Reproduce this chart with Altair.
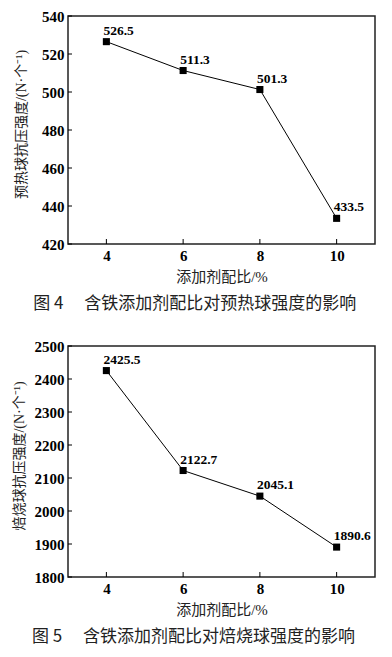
import altair as alt
import pandas as pd

ratio = [4, 6, 8, 10]
preheat = [526.5, 511.3, 501.3, 433.5]
roast = [2425.5, 2122.7, 2045.1, 1890.6]
preheat_labels = ["526.5", "511.3", "501.3", "433.5"]
roast_labels = ["2425.5", "2122.7", "2045.1", "1890.6"]
x_ticks = [4, 6, 8, 10]
y1_ticks = [420, 440, 460, 480, 500, 520, 540]
y2_ticks = [1800, 1900, 2000, 2100, 2200, 2300, 2400, 2500]

SERIF = "Liberation Serif, Noto Sans CJK SC"
CJK = "Noto Sans CJK SC"


def panel(values, labels, yticks, ydomain, ytitle, caption, W, H, tpad):
    df = pd.DataFrame({"x": ratio, "y": values, "label": labels})
    xs = alt.X(
        "x:Q",
        scale=alt.Scale(domain=[3, 11], nice=False, zero=False),
        axis=alt.Axis(values=x_ticks, title="添加剂配比/%", ticks=False, domain=False,
                      grid=False, labelFont="Liberation Serif", labelFontWeight="bold",
                      labelFontSize=15, labelColor="black", labelPadding=4,
                      titleFont=SERIF, titleFontSize=15, titleFontWeight="normal",
                      titleColor="#222", titlePadding=6),
    )
    ys = alt.Y(
        "y:Q",
        scale=alt.Scale(domain=ydomain, nice=False, zero=False),
        axis=alt.Axis(values=yticks, title=ytitle, ticks=False, domain=False, format="d",
                      grid=False, labelFont="Liberation Serif", labelFontWeight="bold",
                      labelFontSize=15, labelColor="black", labelPadding=4,
                      titleFont=SERIF, titleFontSize=14, titleFontWeight="normal",
                      titleColor="#222", titlePadding=tpad, titleY=H / 2 - 6),
    )
    line = alt.Chart(df).mark_line(color="black", strokeWidth=1).encode(x=xs, y=ys)
    pts = alt.Chart(df).mark_square(size=50, color="black", opacity=1).encode(x=xs, y=ys)
    txt = alt.Chart(df).mark_text(
        align="left", baseline="middle", dx=-3, dy=-11,
        font="Liberation Serif", fontWeight="bold", fontSize=13.5, color="black",
    ).encode(x=xs, y=ys, text="label:N")
    xt = alt.Chart(pd.DataFrame({"x": x_ticks})).mark_rule(color="black", strokeWidth=1).encode(
        x=xs, y=alt.value(H), y2=alt.value(H - 5))
    yt = alt.Chart(pd.DataFrame({"y": yticks})).mark_rule(color="black", strokeWidth=1).encode(
        y=ys, x=alt.value(0), x2=alt.value(4))
    return alt.layer(line, pts, txt, xt, yt).properties(
        width=W, height=H,
        title=alt.TitleParams(caption, orient="bottom", frame="bounds", anchor="middle",
                              fontSize=17, font=CJK, fontWeight="normal", color="#222",
                              offset=12),
    )


p1 = panel(preheat, preheat_labels, y1_ticks, [420, 540],
           "预热球抗压强度/(N·个⁻¹)", "图 4　 含铁添加剂配比对预热球强度的影响", 307, 228, 13)
p2 = panel(roast, roast_labels, y2_ticks, [1800, 2500],
           "焙烧球抗压强度/(N·个⁻¹)", "图 5　 含铁添加剂配比对焙烧球强度的影响", 307, 231, 8)

chart = alt.concat(p1, p2, columns=1, spacing=25).configure(
    padding={"left": 3, "top": 0, "right": 0, "bottom": 0},
    background="white",
).configure_view(stroke="#222", strokeWidth=1.5)

chart.save("out.html", embed_options={"renderer": "svg", "actions": False})
